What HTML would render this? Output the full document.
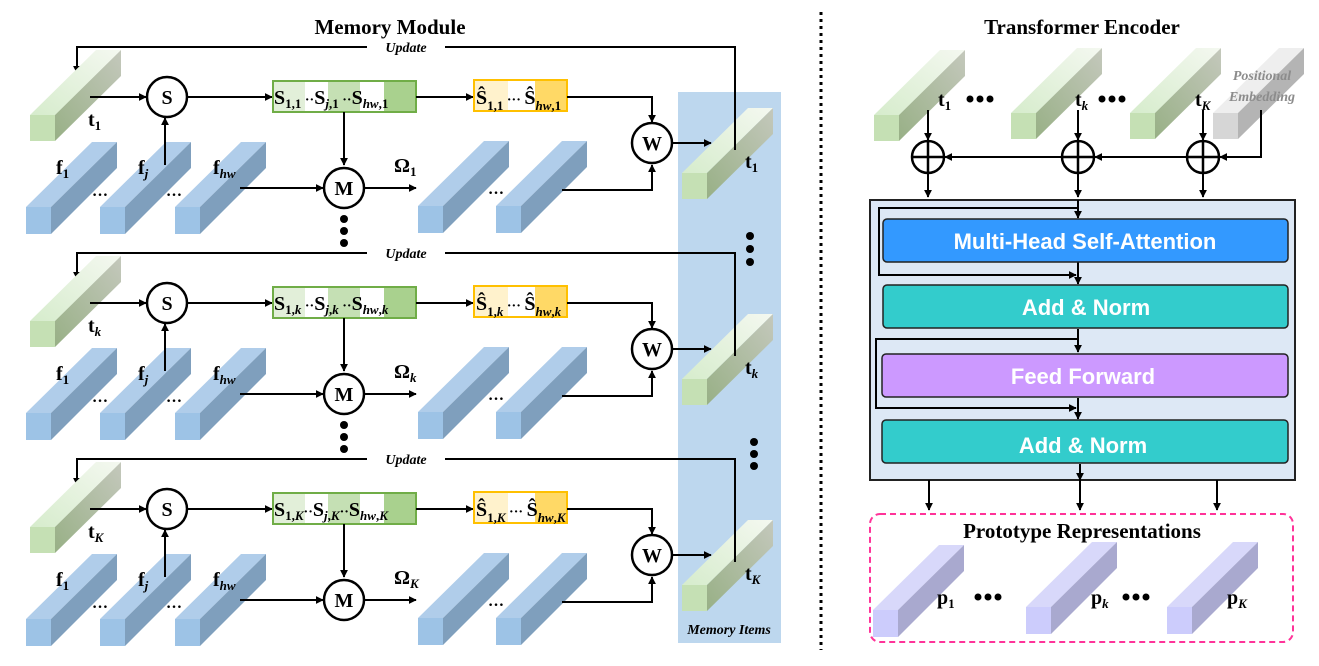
<!DOCTYPE html>
<html><head><meta charset="utf-8"><style>
html,body{margin:0;padding:0;background:#fff;width:1319px;height:666px;overflow:hidden}
svg{display:block}
.t{font-family:"Liberation Serif",serif;font-weight:bold;fill:#000}
.a{font-family:"Liberation Sans",sans-serif;font-weight:bold;fill:#fff;font-size:22px}
.it{font-style:italic}
</style></head><body>
<svg width="1319" height="666" viewBox="0 0 1319 666" xmlns="http://www.w3.org/2000/svg">
<defs>
<marker id="ar" viewBox="0 0 10 10" refX="9" refY="5" markerWidth="8" markerHeight="8" orient="auto" markerUnits="userSpaceOnUse"><path d="M0,0 L10,5 L0,10z" fill="#000"/></marker>
<linearGradient id="gt" x1="0" y1="1" x2="1" y2="0"><stop offset="0" stop-color="#d6eccc"/><stop offset="1" stop-color="#f4f8f0"/></linearGradient>
<linearGradient id="gs" x1="0" y1="1" x2="1" y2="0"><stop offset="0" stop-color="#98b086"/><stop offset="1" stop-color="#c4c8bc"/></linearGradient>
<g id="bb"><polygon points="0,0 25,0 91,-65 66,-65" fill="#b0cdea"/><polygon points="25,0 91,-65 91,-39 25,27" fill="#7f9fbd"/><rect x="0" y="0" width="25" height="27" fill="#9dc3e6"/></g>
<g id="gb"><polygon points="0,0 25,0 91,-65 66,-65" fill="url(#gt)"/><polygon points="25,0 91,-65 91,-39 25,26" fill="url(#gs)"/><rect x="0" y="0" width="25" height="26" fill="#c5e0b4"/></g>
<g id="yb"><polygon points="0,0 25,0 91,-65 66,-65" fill="#eeeeee"/><polygon points="25,0 91,-65 91,-39 25,26" fill="#b4b4b4"/><rect x="0" y="0" width="25" height="26" fill="#d6d6d6"/></g>
<g id="pb"><polygon points="0,0 25,0 91,-65 66,-65" fill="#d8d8fa"/><polygon points="25,0 91,-65 91,-39 25,27" fill="#a9a9cf"/><rect x="0" y="0" width="25" height="27" fill="#ccccfc"/></g>
<g id="row">
 <polyline points="735,135 735,47 445,47" fill="none" stroke="#000" stroke-width="2"/>
 <polyline points="367,47 77,47 77,73" fill="none" stroke="#000" stroke-width="2" marker-end="url(#ar)"/>
 <use href="#gb" x="30" y="115"/>
 <use href="#bb" x="26" y="207"/><use href="#bb" x="100" y="207"/><use href="#bb" x="175" y="207"/>
 <use href="#bb" x="418" y="206"/><use href="#bb" x="496" y="206"/>
 <line x1="90" y1="97" x2="146" y2="97" stroke="#000" stroke-width="2" marker-end="url(#ar)"/>
 <line x1="188" y1="97" x2="272" y2="97" stroke="#000" stroke-width="2" marker-end="url(#ar)"/>
 <line x1="165" y1="165" x2="165" y2="118" stroke="#000" stroke-width="2" marker-end="url(#ar)"/>
 <rect x="273" y="81" width="32" height="31" fill="#e2efd9"/><rect x="328" y="81" width="32" height="31" fill="#c5e0b4"/><rect x="384" y="81" width="32" height="31" fill="#a9d18e"/>
 <rect x="273" y="81" width="143" height="31" fill="none" stroke="#70ad47" stroke-width="2"/>
 <line x1="416" y1="97" x2="473" y2="97" stroke="#000" stroke-width="2" marker-end="url(#ar)"/>
 <rect x="474" y="80" width="34" height="31" fill="#fff2cc"/><rect x="535" y="80" width="32" height="31" fill="#ffd966"/>
 <rect x="474" y="80" width="93" height="31" fill="none" stroke="#ffc000" stroke-width="2"/>
 <polyline points="567,97 652,97 652,122" fill="none" stroke="#000" stroke-width="2" marker-end="url(#ar)"/>
 <line x1="344" y1="112" x2="344" y2="165" stroke="#000" stroke-width="2" marker-end="url(#ar)"/>
 <line x1="240" y1="188" x2="323" y2="188" stroke="#000" stroke-width="2" marker-end="url(#ar)"/>
 <line x1="365" y1="188" x2="416" y2="188" stroke="#000" stroke-width="2" marker-end="url(#ar)"/>
 <polyline points="562,190 652,190 652,165" fill="none" stroke="#000" stroke-width="2" marker-end="url(#ar)"/>
 <line x1="673" y1="143" x2="711" y2="143" stroke="#000" stroke-width="2" marker-end="url(#ar)"/>
 <circle cx="167" cy="97" r="20" fill="#fff" stroke="#000" stroke-width="2.5"/>
 <circle cx="344" cy="188" r="20" fill="#fff" stroke="#000" stroke-width="2.5"/>
 <circle cx="652" cy="143" r="20" fill="#fff" stroke="#000" stroke-width="2.5"/>
 <text class="t" x="167" y="104" font-size="20" text-anchor="middle">S</text>
 <text class="t" x="344" y="195" font-size="20" text-anchor="middle">M</text>
 <text class="t" x="652" y="150" font-size="20" text-anchor="middle">W</text>
 <text class="t it" x="406" y="52" font-size="14" text-anchor="middle">Update</text>
 <text class="t" x="56" y="174" font-size="20">f<tspan font-size="13" dy="4">1</tspan></text>
 <text class="t" x="138" y="174" font-size="20">f<tspan font-size="13" dy="4" class="it">j</tspan></text>
 <text class="t" x="213" y="174" font-size="20">f<tspan font-size="13" dy="4" class="it">hw</tspan></text>
 <text class="t" x="92" y="196" font-size="16">…</text><text class="t" x="166" y="196" font-size="16">…</text>
 <text class="t" x="488" y="194" font-size="16">…</text>
</g>
</defs>

<rect x="678" y="92" width="103" height="551" fill="#bdd7ee"/>
<use href="#row"/>
<use href="#row" y="206"/>
<use href="#row" y="412"/>
<use href="#gb" x="682" y="173"/>
<use href="#gb" x="682" y="379"/>
<use href="#gb" x="682" y="585"/>
<line x1="735" y1="47" x2="735" y2="150" stroke="#000" stroke-width="2"/>
<line x1="735" y1="253" x2="735" y2="356" stroke="#000" stroke-width="2"/>
<line x1="735" y1="459" x2="735" y2="562" stroke="#000" stroke-width="2"/>

<text class="t" x="390" y="34" font-size="21" text-anchor="middle">Memory Module</text>
<text class="t it" x="729" y="634" font-size="14" text-anchor="middle">Memory Items</text>

<!-- row labels -->
<text class="t" x="88" y="126" font-size="20">t<tspan font-size="13" dy="4">1</tspan></text>
<text class="t" x="88" y="332" font-size="20">t<tspan font-size="13" dy="4" class="it">k</tspan></text>
<text class="t" x="88" y="538" font-size="20">t<tspan font-size="13" dy="4" class="it">K</tspan></text>
<text class="t" x="745" y="168" font-size="20">t<tspan font-size="13" dy="4">1</tspan></text>
<text class="t" x="745" y="374" font-size="20">t<tspan font-size="13" dy="4" class="it">k</tspan></text>
<text class="t" x="745" y="580" font-size="20">t<tspan font-size="13" dy="4" class="it">K</tspan></text>
<text class="t" x="394" y="172" font-size="20">Ω<tspan font-size="13" dy="4">1</tspan></text>
<text class="t" x="394" y="378" font-size="20">Ω<tspan font-size="13" dy="4" class="it">k</tspan></text>
<text class="t" x="394" y="584" font-size="20">Ω<tspan font-size="13" dy="4" class="it">K</tspan></text>

<g class="t" font-size="20">
<text x="274" y="104">S<tspan font-size="13" dy="4">1,1</tspan><tspan dy="-4" font-size="14"> ··</tspan>S<tspan font-size="13" dy="4"><tspan class="it">j</tspan>,1</tspan><tspan dy="-4" font-size="14"> ··</tspan>S<tspan font-size="13" dy="4"><tspan class="it">hw</tspan>,1</tspan></text>
<text x="274" y="310">S<tspan font-size="13" dy="4">1,<tspan class="it">k</tspan></tspan><tspan dy="-4" font-size="14"> ··</tspan>S<tspan font-size="13" dy="4"><tspan class="it">j</tspan>,<tspan class="it">k</tspan></tspan><tspan dy="-4" font-size="14"> ··</tspan>S<tspan font-size="13" dy="4"><tspan class="it">hw</tspan>,<tspan class="it">k</tspan></tspan></text>
<text x="274" y="516">S<tspan font-size="13" dy="4">1,<tspan class="it">K</tspan></tspan><tspan dy="-4" font-size="14">··</tspan>S<tspan font-size="13" dy="4"><tspan class="it">j</tspan>,<tspan class="it">K</tspan></tspan><tspan dy="-4" font-size="14">··</tspan>S<tspan font-size="13" dy="4"><tspan class="it">hw</tspan>,<tspan class="it">K</tspan></tspan></text>
<text x="476" y="104">Ŝ<tspan font-size="13" dy="6">1,1</tspan><tspan dy="-6" font-size="14"> ··· </tspan>Ŝ<tspan font-size="13" dy="6"><tspan class="it">hw</tspan>,1</tspan></text>
<text x="476" y="310">Ŝ<tspan font-size="13" dy="6">1,<tspan class="it">k</tspan></tspan><tspan dy="-6" font-size="14"> ··· </tspan>Ŝ<tspan font-size="13" dy="6"><tspan class="it">hw</tspan>,<tspan class="it">k</tspan></tspan></text>
<text x="476" y="516">Ŝ<tspan font-size="13" dy="6">1,<tspan class="it">K</tspan></tspan><tspan dy="-6" font-size="14"> ··· </tspan>Ŝ<tspan font-size="13" dy="6"><tspan class="it">hw</tspan>,<tspan class="it">K</tspan></tspan></text>
</g>

<!-- vertical dots -->
<g fill="#000">
<circle cx="344" cy="219" r="4"/><circle cx="344" cy="231" r="4"/><circle cx="344" cy="243" r="4"/>
<circle cx="344" cy="425" r="4"/><circle cx="344" cy="437" r="4"/><circle cx="344" cy="449" r="4"/>
<circle cx="750" cy="236" r="4"/><circle cx="750" cy="249" r="4"/><circle cx="750" cy="262" r="4"/>
<circle cx="754" cy="442" r="4"/><circle cx="754" cy="454" r="4"/><circle cx="754" cy="466" r="4"/>
</g>

<line x1="821" y1="12" x2="821" y2="650" stroke="#000" stroke-width="3" stroke-dasharray="3,4"/>

<!-- Transformer -->
<text class="t" x="1082" y="34" font-size="21" text-anchor="middle">Transformer Encoder</text>
<use href="#gb" x="874" y="115"/>
<use href="#gb" x="1011" y="113"/>
<use href="#gb" x="1130" y="113"/>
<use href="#yb" x="1213" y="113"/>
<text class="t it" x="1262" y="80" font-size="14" fill="#8c8c8c" style="fill:#8c8c8c" text-anchor="middle">Positional</text>
<text class="t it" x="1262" y="101" font-size="14" style="fill:#8c8c8c" text-anchor="middle">Embedding</text>
<text class="t" x="938" y="106" font-size="20">t<tspan font-size="13" dy="4">1</tspan></text>
<text class="t" x="1075" y="106" font-size="20">t<tspan font-size="13" dy="4" class="it">k</tspan></text>
<text class="t" x="1195" y="106" font-size="20">t<tspan font-size="13" dy="4" class="it">K</tspan></text>
<g fill="#000"><circle cx="970" cy="99" r="3.5"/><circle cx="980" cy="99" r="3.5"/><circle cx="990" cy="99" r="3.5"/>
<circle cx="1102" cy="99" r="3.5"/><circle cx="1112" cy="99" r="3.5"/><circle cx="1122" cy="99" r="3.5"/></g>
<g stroke="#000" stroke-width="2" fill="none">
<line x1="928" y1="110" x2="928" y2="140" marker-end="url(#ar)"/>
<line x1="1078" y1="110" x2="1078" y2="140" marker-end="url(#ar)"/>
<line x1="1203" y1="110" x2="1203" y2="140" marker-end="url(#ar)"/>
<polyline points="1261,110 1261,157 1220,157" marker-end="url(#ar)"/>
<line x1="1186" y1="157" x2="1095" y2="157" marker-end="url(#ar)"/>
<line x1="1061" y1="157" x2="945" y2="157" marker-end="url(#ar)"/>
<line x1="928" y1="174" x2="928" y2="197" marker-end="url(#ar)"/>
<line x1="1078" y1="174" x2="1078" y2="197" marker-end="url(#ar)"/>
<line x1="1203" y1="174" x2="1203" y2="197" marker-end="url(#ar)"/>
</g>
<g stroke="#000" stroke-width="2.5" fill="#fff">
<circle cx="928" cy="157" r="16"/><circle cx="1078" cy="157" r="16"/><circle cx="1203" cy="157" r="16"/>
<path d="M912,157h32M928,141v32M1062,157h32M1078,141v32M1187,157h32M1203,141v32" fill="none"/>
</g>

<rect x="870" y="200" width="425" height="280" fill="#dde8f5" stroke="#222" stroke-width="2"/>
<g stroke="#000" stroke-width="2" fill="none">
<polyline points="1078,200 1078,218" marker-end="url(#ar)"/>
<polyline points="1078,208 879,208 879,275 1076,275" marker-end="url(#ar)"/>
<polyline points="1078,262 1078,284" marker-end="url(#ar)"/>
<polyline points="1078,329 1078,352" marker-end="url(#ar)"/>
<polyline points="1078,339 876,339 876,408 1076,408" marker-end="url(#ar)"/>
<polyline points="1078,398 1078,419" marker-end="url(#ar)"/>
<polyline points="1080,464 1080,480" marker-end="url(#ar)"/>
</g>
<rect x="883" y="219" width="405" height="43" rx="4" fill="#3399ff" stroke="#222" stroke-width="1.5"/>
<rect x="883" y="285" width="405" height="43" rx="4" fill="#33cccc" stroke="#222" stroke-width="1.5"/>
<rect x="882" y="354" width="406" height="43" rx="4" fill="#cc99ff" stroke="#222" stroke-width="1.5"/>
<rect x="882" y="420" width="406" height="43" rx="4" fill="#33cccc" stroke="#222" stroke-width="1.5"/>
<text class="a" x="1085" y="249" text-anchor="middle">Multi-Head Self-Attention</text>
<text class="a" x="1086" y="315" text-anchor="middle">Add &amp; Norm</text>
<text class="a" x="1083" y="384" text-anchor="middle">Feed Forward</text>
<text class="a" x="1083" y="453" text-anchor="middle">Add &amp; Norm</text>

<g stroke="#000" stroke-width="2">
<line x1="929" y1="480" x2="929" y2="510" marker-end="url(#ar)"/>
<line x1="1080" y1="480" x2="1080" y2="510" marker-end="url(#ar)"/>
<line x1="1217" y1="480" x2="1217" y2="510" marker-end="url(#ar)"/>
</g>
<rect x="870" y="514" width="423" height="128" rx="10" fill="none" stroke="#ff3399" stroke-width="2" stroke-dasharray="6,4"/>
<text class="t" x="1082" y="538" font-size="21" text-anchor="middle">Prototype Representations</text>
<use href="#pb" x="873" y="610"/>
<use href="#pb" x="1026" y="607"/>
<use href="#pb" x="1167" y="607"/>
<text class="t" x="937" y="604" font-size="20">p<tspan font-size="13" dy="4">1</tspan></text>
<text class="t" x="1091" y="604" font-size="20">p<tspan font-size="13" dy="4" class="it">k</tspan></text>
<text class="t" x="1227" y="604" font-size="20">p<tspan font-size="13" dy="4" class="it">K</tspan></text>
<g fill="#000"><circle cx="978" cy="597" r="3.5"/><circle cx="988" cy="597" r="3.5"/><circle cx="998" cy="597" r="3.5"/>
<circle cx="1126" cy="597" r="3.5"/><circle cx="1136" cy="597" r="3.5"/><circle cx="1146" cy="597" r="3.5"/></g>
</svg>
</body></html>
